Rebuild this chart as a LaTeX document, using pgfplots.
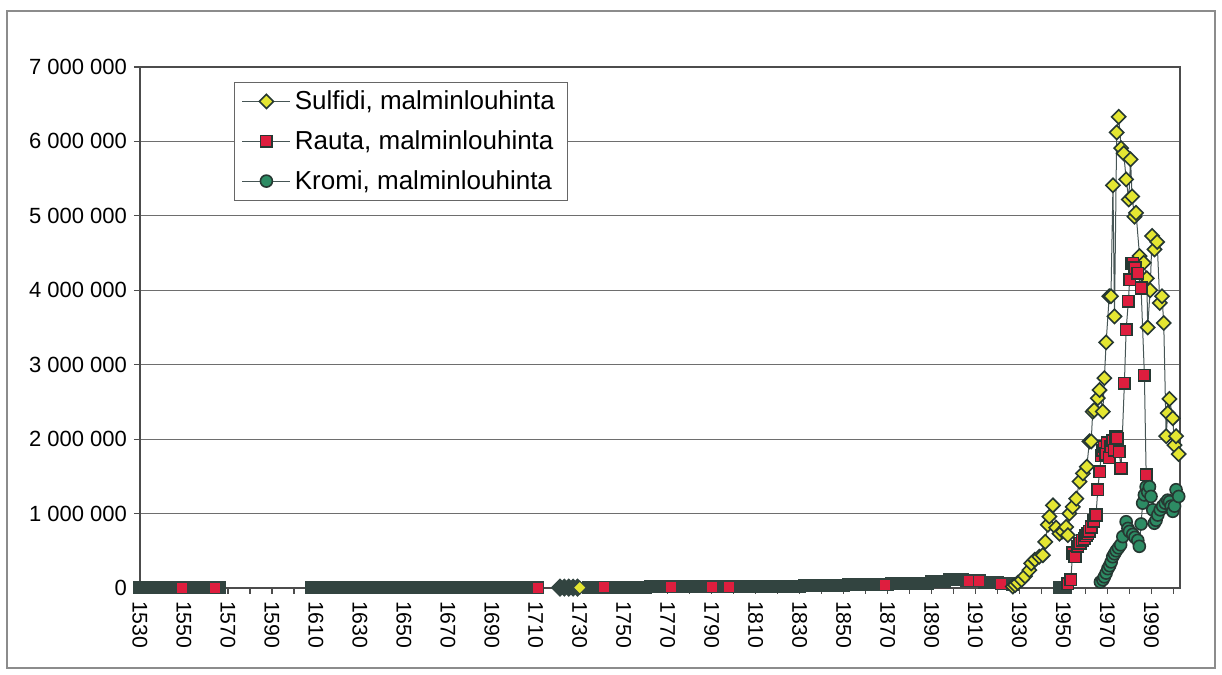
\documentclass[border=0pt]{standalone}
\usepackage{fontspec}
\setmainfont{Liberation Sans}
\usepackage{pgfplots}
\pgfplotsset{compat=1.18}
\definecolor{sulf}{RGB}{228,230,50}
\definecolor{rauta}{RGB}{222,30,62}
\definecolor{kromi}{RGB}{45,140,100}
\definecolor{edge}{RGB}{38,56,50}
\definecolor{lin}{RGB}{70,85,85}
\definecolor{band}{RGB}{50,68,64}
\definecolor{gridc}{RGB}{110,110,110}
\begin{document}
\begin{tikzpicture}
\begin{axis}[
  scale only axis, width=520pt, height=260.5pt,
  xmin=1530, xmax=2003, ymin=0, ymax=7000000,
  clip=false,
  axis line style={draw=black!70, line width=0.8pt},
  ytick={0,1000000,2000000,3000000,4000000,5000000,6000000,7000000},
  yticklabels={0,1 000 000,2 000 000,3 000 000,4 000 000,5 000 000,6 000 000,7 000 000},
  scaled y ticks=false,
  xtick={1530,1550,...,1990}, minor xtick={1540,1560,...,2000},
  tick align=outside, tick pos=left, major tick length=3pt, minor tick length=3pt,
  tick style={black!70, line width=0.6pt},
  ymajorgrids, grid style={gridc, line width=0.6pt},
  /pgf/number format/assume math mode=true,
  x tick label style={rotate=-90, anchor=west, font=\fontsize{10.6}{12}\selectfont, /pgf/number format/1000 sep={}},
  y tick label style={font=\fontsize{11}{13}\selectfont},
  legend style={at={(0.09,0.971)}, anchor=north west, draw=black!60, fill=white,
    font=\fontsize{13}{15}\selectfont, row sep=5pt, inner xsep=4pt, inner ysep=2pt},
  legend cell align=left,
  legend image code/.code={\draw[mark repeat=2,mark phase=2] plot coordinates {(0cm,0cm) (0.42cm,0cm) (0.84cm,0cm)};},
]
\path (axis description cs:-0.13462,-0.16699) rectangle (axis description cs:1.04038,1.12860);
\draw[black!45, line width=0.6pt] (axis description cs:-0.12788,-0.15355) rectangle (axis description cs:1.03365,1.10749);

% dense band near zero
\pgfplotsset{bandstyle/.style={forget plot, draw=band, line width=0.5pt, mark=square*, mark size=3pt, mark options={fill=band, draw=band, solid}}}
\addplot[bandstyle] coordinates {(1530,5000)(1532,5000)(1534,5000)(1536,5000)(1538,5000)(1540,5000)(1542,5000)(1544,5000)(1546,5000)(1548,5000)(1550,5000)(1551,5000)};
\addplot[bandstyle] coordinates {(1555,5000)(1557,5000)(1559,5000)(1561,5000)(1563,5000)(1565,5000)(1566,5000)};
\addplot[bandstyle] coordinates {(1608,5000)(1610,5000)(1612,5000)(1614,5000)(1616,5000)(1618,5000)(1620,5000)(1622,5000)(1624,5000)(1626,5000)(1628,5000)(1630,5000)(1632,5000)(1634,5000)(1636,5000)(1638,5000)(1640,5000)(1642,5000)(1644,5000)(1646,5000)(1648,5000)(1650,5000)(1652,5000)(1654,5000)(1656,5000)(1658,5000)(1660,5000)(1662,5000)(1664,5000)(1666,5000)(1668,5000)(1670,5000)(1672,5000)(1674,5000)(1676,5000)(1678,5000)(1680,5000)(1682,5000)(1684,5000)(1686,5000)(1688,5000)(1690,5000)(1692,5000)(1694,5000)(1696,5000)(1698,5000)(1700,5000)(1702,5000)(1704,5000)(1706,5000)(1708,5000)(1710,5000)(1711,5000)};
\addplot[bandstyle, mark=square*, mark options={rotate=45, fill=band, draw=band}] coordinates {(1721,5000)(1723,5000)(1725,5000)(1727,5000)(1729,5000)};
\addplot[bandstyle] coordinates {(1734,8000)(1736,8000)(1738,10000)(1740,10000)(1742,10000)(1744,10000)(1746,10000)(1748,10000)(1750,10000)(1752,10000)(1754,10000)(1756,10000)(1758,10000)(1760,10000)(1762,15000)(1764,15000)(1766,15000)(1768,15000)(1770,15000)(1772,15000)(1774,15000)(1776,15000)(1778,15000)(1780,15000)(1782,15000)(1784,15000)(1786,15000)(1788,15000)(1790,15000)(1792,15000)(1794,15000)(1796,15000)(1798,15000)(1800,15000)(1802,25000)(1804,25000)(1806,25000)(1808,25000)(1810,25000)(1812,25000)(1814,25000)(1816,25000)(1818,25000)(1820,25000)(1822,25000)(1824,25000)(1826,25000)(1828,25000)(1830,25000)(1832,35000)(1834,35000)(1836,35000)(1838,35000)(1840,35000)(1842,35000)(1844,35000)(1846,35000)(1848,35000)(1850,35000)(1852,45000)(1854,45000)(1856,45000)(1858,45000)(1860,45000)(1862,45000)(1864,45000)(1866,45000)(1868,45000)(1870,45000)(1872,60000)(1874,60000)(1876,60000)(1878,60000)(1880,60000)(1882,60000)(1884,60000)(1886,60000)(1888,60000)(1890,85000)(1892,85000)(1894,85000)(1896,85000)(1898,110000)(1900,110000)(1902,110000)(1904,110000)(1906,95000)(1908,95000)(1910,95000)(1912,95000)(1914,70000)(1916,70000)(1918,70000)(1920,70000)(1922,55000)(1924,55000)(1926,55000)(1927,50000)};
\addplot[bandstyle] coordinates {(1948,10000)(1949,10000)(1950,10000)(1951,10000)};

% isolated visible markers on the band
\addplot[forget plot, only marks, mark=square*, mark size=2.8pt, mark options={fill=rauta, draw=band, line width=0.6pt}] coordinates {(1549,5000)(1564,5000)(1711,5000)(1741,10000)(1771.5,15000)(1790,15000)(1798,15000)(1869,45000)(1907,95000)(1911.5,95000)(1921.5,55000)};
\addplot[forget plot, only marks, mark=square*, mark size=2.3pt, mark options={rotate=45, fill=sulf, draw=band, line width=0.6pt}] coordinates {(1730,5000)};

% Sulfidi
\addplot[draw=lin, line width=0.5pt, mark=square*, mark size=2.5pt, mark options={rotate=45, fill=sulf, draw=edge, line width=0.8pt, solid}] coordinates {
(1927,20000)(1928,40000)(1929.2,70000)(1931,110000)(1932.5,160000)(1934.5,240000)(1935.3,330000)(1937,380000)(1939,420000)(1940.6,440000)(1941.7,620000)(1942.9,850000)(1943.6,960000)(1945.2,1110000)(1946.7,810000)(1948.2,730000)(1949.7,760000)(1951.2,820000)(1952,710000)(1952.7,1000000)(1954.2,1090000)(1955.8,1200000)(1957.3,1430000)(1958.8,1540000)(1960.6,1630000)(1961.8,1970000)(1962.6,1970000)(1963.3,2370000)(1964,2390000)(1965.6,2550000)(1966.4,2660000)(1967.9,2370000)(1968.6,2820000)(1969.4,3300000)(1970.8,3920000)(1971.6,3920000)(1972.5,5410000)(1973.2,3650000)(1974.2,6120000)(1975.1,6330000)(1976.2,5910000)(1977.4,5840000)(1978.5,5490000)(1979.7,5220000)(1980.5,5760000)(1981.2,5260000)(1982.3,4990000)(1983,5040000)(1984.6,4460000)(1986.5,4370000)(1987.9,4160000)(1988.3,3500000)(1989.4,4000000)(1990.3,4730000)(1991.4,4550000)(1992.6,4650000)(1993.8,3830000)(1994.8,3920000)(1995.6,3560000)(1996.7,2040000)(1997.4,2350000)(1998.2,2540000)(1999.7,2280000)(2000.5,1920000)(2001.2,2040000)(2002.4,1800000)};
\addlegendentry{Sulfidi, malminlouhinta}

% Rauta
\addplot[draw=lin, line width=0.5pt, mark=square*, mark size=2.9pt, mark options={fill=rauta, draw=edge, line width=0.8pt, solid}] coordinates {
(1952,60000)(1953.3,110000)(1954.2,470000)(1955.2,420000)(1956.5,560000)(1957.5,600000)(1958.5,640000)(1959.5,660000)(1960.2,700000)(1961,730000)(1961.8,760000)(1962.6,820000)(1963.8,900000)(1964.8,980000)(1965.6,1320000)(1966.4,1560000)(1967.2,1780000)(1968,1850000)(1968.6,1900000)(1969.3,1800000)(1970,1950000)(1970.8,1750000)(1971.5,1900000)(1972.3,1980000)(1973.1,1850000)(1973.9,2030000)(1974.5,2010000)(1975.3,1830000)(1976.2,1610000)(1977.7,2750000)(1978.5,3470000)(1979.5,3850000)(1980.1,4140000)(1980.8,4360000)(1981.5,4360000)(1982.5,4300000)(1983.8,4230000)(1985.3,4030000)(1986.8,2860000)(1987.6,1520000)};
\addlegendentry{Rauta, malminlouhinta}

% Kromi
\addplot[draw=lin, line width=0.5pt, mark=*, mark size=3pt, mark options={fill=kromi, draw=edge, line width=0.8pt, solid}] coordinates {
(1966.8,80000)(1967.9,110000)(1968.6,150000)(1969.4,200000)(1970.2,260000)(1971,300000)(1971.7,350000)(1972.4,420000)(1973.2,460000)(1974,500000)(1975,540000)(1976,580000)(1977,690000)(1978.5,890000)(1979.3,800000)(1980,760000)(1981.5,720000)(1982.5,680000)(1983.8,640000)(1984.5,560000)(1985.3,860000)(1986,1140000)(1986.8,1250000)(1987.6,1360000)(1988.3,1290000)(1989.1,1360000)(1989.8,1230000)(1990.6,1050000)(1991.3,870000)(1992.1,910000)(1992.9,980000)(1994,1050000)(1995.1,1100000)(1996.3,1140000)(1997.4,1180000)(1998.2,1160000)(1999,1100000)(1999.7,1030000)(2000.5,1100000)(2001.2,1320000)(2002.4,1230000)};
\addlegendentry{Kromi, malminlouhinta}
\end{axis}
\end{tikzpicture}
\end{document}
